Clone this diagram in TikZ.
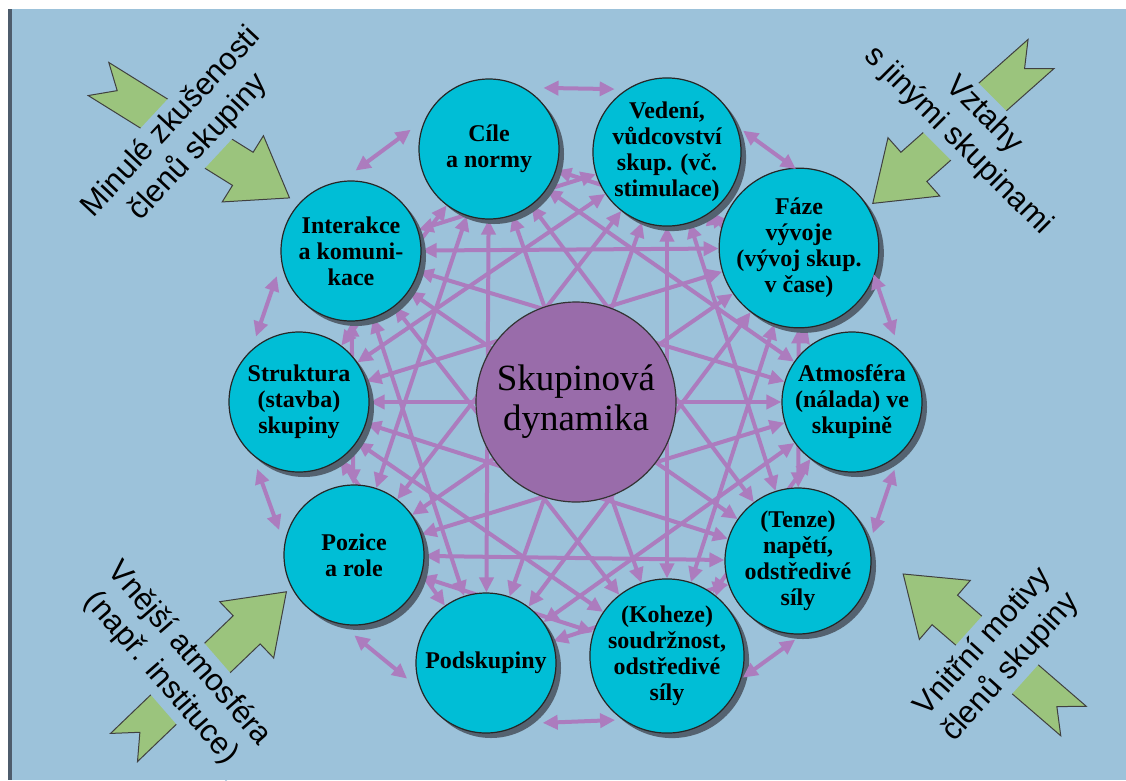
\documentclass[tikz,border=0pt]{standalone}
\usepackage{fontspec}
\setmainfont{Liberation Serif}
\newfontfamily\sidefont{Liberation Sans}
\usepackage{tikz}
\usetikzlibrary{calc}
\usetikzlibrary{shadows}
\usetikzlibrary{backgrounds}
\usetikzlibrary{arrows.meta}
\definecolor{pozadi}{RGB}{156,194,218}
\definecolor{okraj}{RGB}{78,92,108}
\definecolor{tyrkys}{RGB}{0,190,214}
\definecolor{fialova}{RGB}{153,108,170}
\definecolor{spojka}{RGB}{172,124,190}
\definecolor{zelena}{RGB}{155,196,125}
\definecolor{stin}{RGB}{84,98,112}
\tikzstyle{topic}=[circle, draw=black!85, line width=1.2pt, fill=tyrkys,
  minimum size=140pt, inner sep=0pt, align=center,
  font=\bfseries\fontsize{24}{26}\selectfont,
  drop shadow={shadow xshift=5pt, shadow yshift=-5pt, fill=stin, opacity=1}]
\tikzstyle{hub}=[circle, draw=black!80, line width=1.2pt, fill=fialova,
  minimum size=200pt, inner sep=0pt, align=center,
  font=\fontsize{37}{40}\selectfont]
\tikzstyle{arrlink}=[<->, >={Triangle[length=15pt, width=14pt]},
  line width=4pt, draw=spojka]
\tikzstyle{influence}=[draw=black!75, line width=1pt, fill=zelena]
\tikzstyle{sidetext}=[fill=pozadi, align=center, inner sep=4pt,
  font=\sidefont\fontsize{31}{37}\selectfont]
% tail x, tail y, direction
\newcommand{\influencearrow}[3]{%
  \draw[influence, shift={(#1,#2)}, rotate=#3]
    (0,19.5) -- (170,19.5) -- (170,39) -- (225,0) -- (170,-39)
    -- (170,-19.5) -- (0,-19.5) -- (22,0) -- cycle;}

\begin{document}
\begin{tikzpicture}[x=1pt, y=-1pt]
\useasboundingbox (0,0) rectangle (1126,780);

\influencearrow{98.5}{79}{-31.9}
\influencearrow{1041}{54}{-138.4}
\influencearrow{124}{747.5}{43.8}
\influencearrow{1073.5}{721}{139.2}

\node[sidetext, rotate=47] (minule) at (185,135) {Minulé zkušenosti\\členů skupiny};
\node[sidetext, rotate=-45] (vztahy) at (971,128) {Vztahy\\s jinými skupinami};
\node[sidetext, rotate=-49] (vnejsi) at (175,666) {Vnější atmosféra\\(např. instituce)};
\node[sidetext, rotate=48] (vnitrni) at (997,655) {Vnitřní motivy\\členů skupiny};

\node[topic] (cile) at (489,149) {Cíle\\a normy};
\node[topic] (vedeni) at (667,152) {Vedení,\\vůdcovství\\skup. (vč.\\stimulace)};
\node[topic] (faze) at (799,248) {Fáze\\vývoje\\(vývoj skup.\\v čase)};
\node[topic] (atmosfera) at (852,402) {Atmosféra\\(nálada) ve\\skupině};
\node[topic] (tenze) at (798,561) {(Tenze)\\napětí,\\odstředivé\\síly};
\node[topic] (koheze) at (667,656) {(Koheze)\\soudržnost,\\odstředivé\\síly};
\node[topic] (podskupiny) at (486,663) {Podskupiny};
\node[topic] (pozice) at (354,555) {Pozice\\a role};
\node[topic] (struktura) at (299,402) {Struktura\\(stavba)\\skupiny};
\node[topic] (interakce) at (351,251) {Interakce\\a komuni-\\kace};

\begin{pgfonlayer}{background}
\fill[white] (0,0) rectangle (1126,780);
\fill[pozadi] (12,9) rectangle (1126,780);
\fill[okraj] (8,9) rectangle (12,780);
\foreach \a/\others in {cile/{faze,atmosfera,tenze,koheze,podskupiny,pozice,struktura},
    vedeni/{atmosfera,tenze,koheze,podskupiny,pozice,struktura,interakce},
    faze/{tenze,koheze,podskupiny,pozice,struktura,interakce},
    atmosfera/{koheze,podskupiny,pozice,struktura,interakce},
    tenze/{podskupiny,pozice,struktura,interakce},
    koheze/{pozice,struktura,interakce},
    podskupiny/{struktura,interakce},
    pozice/{interakce}}
  \foreach \b in \others
    \draw[arrlink] (\a) -- (\b);
\end{pgfonlayer}

\foreach \a/\b in {cile/vedeni, vedeni/faze, faze/atmosfera, atmosfera/tenze,
    tenze/koheze, koheze/podskupiny, podskupiny/pozice, pozice/struktura,
    struktura/interakce, interakce/cile}
  \draw[arrlink] ($(\a)!0.3!(\b)!62pt!90:(\b)$) -- ($(\a)!0.7!(\b)!62pt!90:(\b)$);

\node[hub] (dynamika) at (576,402) {Skupinová\\dynamika};
\end{tikzpicture}
\end{document}
